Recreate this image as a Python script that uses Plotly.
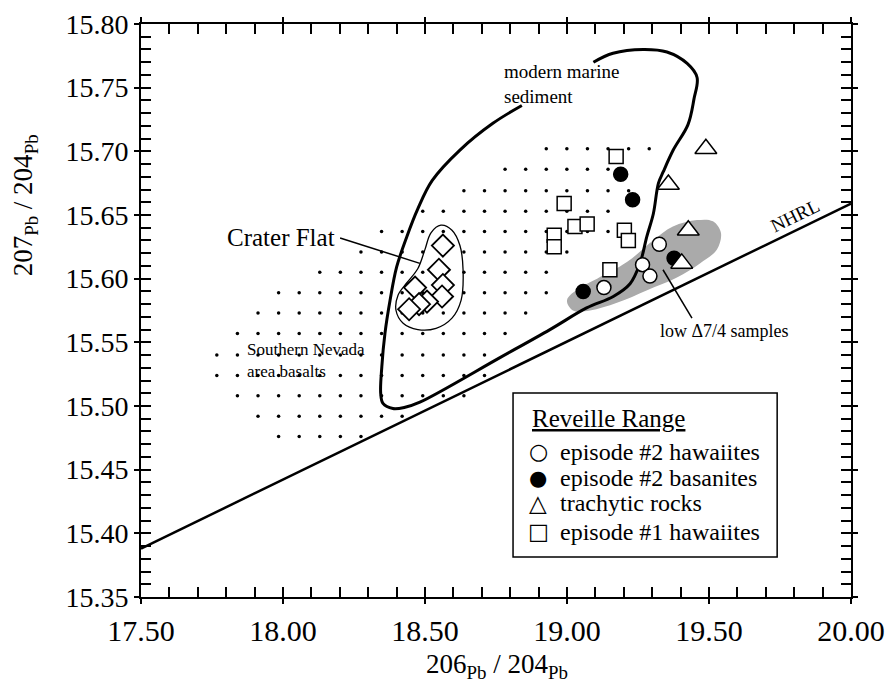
import plotly.graph_objects as go

# ---------------- data ----------------
# Reveille Range samples
ep2_haw_x = [19.325, 19.266, 19.292, 19.130]
ep2_haw_y = [15.627, 15.611, 15.602, 15.593]

ep2_bas_x = [19.189, 19.231, 19.057, 19.377]
ep2_bas_y = [15.682, 15.662, 15.590, 15.616]

trach_x = [19.489, 19.357, 19.427, 19.404]
trach_y = [15.702, 15.674, 15.638, 15.612]

ep1_haw_x = [19.173, 18.990, 19.028, 19.071, 18.955, 18.955, 19.202, 19.216, 19.151]
ep1_haw_y = [15.696, 15.659, 15.641, 15.643, 15.634, 15.625, 15.638, 15.630, 15.607]

# Crater Flat samples (diamonds)
cf_x = [18.563, 18.549, 18.563, 18.465, 18.560, 18.507, 18.479, 18.444]
cf_y = [15.626, 15.607, 15.595, 15.593, 15.586, 15.582, 15.580, 15.576]

# Crater Flat field outline
cf_field_x = [18.556, 18.595, 18.623, 18.634, 18.627, 18.595, 18.539, 18.475,
              18.423, 18.398, 18.405, 18.437, 18.475, 18.500, 18.521, 18.556]
cf_field_y = [15.642, 15.638, 15.626, 15.607, 15.583, 15.569, 15.561, 15.560,
              15.565, 15.575, 15.587, 15.597, 15.608, 15.623, 15.636, 15.642]

# modern marine sediment field (open curve)
mms_x = [18.841, 18.739, 18.623, 18.525, 18.475, 18.436, 18.400, 18.377, 18.359,
         18.348, 18.344, 18.352, 18.387, 18.430, 18.482, 18.764, 18.940, 19.069,
         19.163, 19.222, 19.257, 19.281, 19.304, 19.322, 19.339, 19.374, 19.426,
         19.447, 19.458, 19.423, 19.352, 19.268, 19.162, 19.093]
mms_y = [15.736, 15.722, 15.701, 15.677, 15.655, 15.633, 15.609, 15.583, 15.557,
         15.531, 15.510, 15.502, 15.498, 15.499, 15.503, 15.538, 15.560, 15.577,
         15.586, 15.596, 15.612, 15.633, 15.651, 15.675, 15.684, 15.701, 15.721,
         15.741, 15.758, 15.769, 15.778, 15.780, 15.777, 15.770]

# low D7/4 field (shaded)
low_x = [19.000, 19.046, 19.106, 19.211, 19.303, 19.373, 19.458, 19.514,
         19.542, 19.528, 19.468, 19.387, 19.282, 19.176, 19.081, 19.021, 19.000]
low_y = [15.583, 15.593, 15.600, 15.613, 15.630, 15.641, 15.646, 15.645,
         15.636, 15.623, 15.612, 15.601, 15.591, 15.581, 15.575, 15.575, 15.583]

# NHRL reference line end points
nhrl_x = [17.50, 20.00]
nhrl_y = [15.388, 15.659]

# Southern Nevada area basalts stipple: grid rows and column index extents
stip_x0 = 17.767
stip_dx = 0.0725
stip_row_y = [15.702, 15.686, 15.669, 15.653, 15.637, 15.621, 15.605, 15.589,
              15.573, 15.557, 15.540, 15.524, 15.508, 15.492, 15.476]
stip_first = [16, 14, 12, 10, 8, 7, 5, 3, 2, 1, 0, 0, 1, 2, 3]
stip_last = [21, 19, 20, 19, 19, 17, 16, 16, 15, 14, 13, 13, 12, 9, 7]

x_ticks = [17.5, 18.0, 18.5, 19.0, 19.5, 20.0]
y_ticks = [15.35, 15.40, 15.45, 15.50, 15.55, 15.60, 15.65, 15.70, 15.75, 15.80]

legend_title = "Reveille Range"
legend_labels = ["episode #2 hawaiites", "episode #2 basanites",
                 "trachytic rocks", "episode #1 hawaiites"]
legend_glyphs = ["○", "●", "△", "□"]

# ---------------- build figure ----------------
SERIF = "Liberation Serif"
fig = go.Figure()

sx, sy = [], []
for yy, k0, k1 in zip(stip_row_y, stip_first, stip_last):
    for k in range(k0, k1 + 1):
        sx.append(stip_x0 + k * stip_dx)
        sy.append(yy)
fig.add_trace(go.Scatter(x=sx, y=sy, mode="markers", showlegend=False,
                         marker=dict(size=3.5, color="black"), hoverinfo="skip"))

fig.add_trace(go.Scatter(x=low_x, y=low_y, mode="lines", fill="toself",
                         fillcolor="rgb(170,170,170)", line=dict(width=0, shape="spline"),
                         showlegend=False, hoverinfo="skip"))

fig.add_trace(go.Scatter(x=nhrl_x, y=nhrl_y, mode="lines", showlegend=False,
                         line=dict(color="black", width=2.5), hoverinfo="skip"))

fig.add_trace(go.Scatter(x=mms_x, y=mms_y, mode="lines", showlegend=False,
                         line=dict(color="black", width=3, shape="spline", smoothing=1.0),
                         hoverinfo="skip"))

fig.add_trace(go.Scatter(x=cf_field_x, y=cf_field_y, mode="lines", showlegend=False,
                         line=dict(color="black", width=1.3, shape="spline", smoothing=1),
                         hoverinfo="skip"))

fig.add_trace(go.Scatter(x=cf_x, y=cf_y, mode="markers", showlegend=False, name="Crater Flat",
                         marker=dict(symbol="diamond", size=17, color="white",
                                     line=dict(color="black", width=1.8))))

fig.add_trace(go.Scatter(x=ep2_haw_x, y=ep2_haw_y, mode="markers", name=legend_labels[0],
                         showlegend=False,
                         marker=dict(symbol="circle", size=14, color="white",
                                     line=dict(color="black", width=1.5))))
fig.add_trace(go.Scatter(x=ep2_bas_x, y=ep2_bas_y, mode="markers", name=legend_labels[1],
                         showlegend=False,
                         marker=dict(symbol="circle", size=14, color="black",
                                     line=dict(color="black", width=1.5))))
fig.add_trace(go.Scatter(x=trach_x, y=trach_y, mode="markers", name=legend_labels[2],
                         showlegend=False,
                         marker=dict(symbol="triangle-up", size=19, color="white",
                                     line=dict(color="black", width=1.5))))
fig.add_trace(go.Scatter(x=ep1_haw_x, y=ep1_haw_y, mode="markers", name=legend_labels[3],
                         showlegend=False,
                         marker=dict(symbol="square", size=14, color="white",
                                     line=dict(color="black", width=1.5))))

# dummy trace for overlay axes (outside major ticks)
fig.add_trace(go.Scatter(x=[], y=[], xaxis="x2", yaxis="y2", showlegend=False))

# leader lines
fig.add_shape(type="line", x0=18.201, y0=15.632, x1=18.482, y1=15.612,
              line=dict(color="black", width=1.5))
fig.add_shape(type="line", x0=19.338, y0=15.607, x1=19.440, y1=15.569,
              line=dict(color="black", width=1.5))

ann_font = dict(family=SERIF, color="black")
fig.add_annotation(x=17.993, y=15.632, text="Crater Flat", showarrow=False,
                   font=dict(size=25, **ann_font))
fig.add_annotation(x=18.771, y=15.753, text="modern marine<br>sediment", showarrow=False,
                   xanchor="left", align="left", font=dict(size=19, **ann_font))
fig.add_annotation(x=17.866, y=15.536, text="Southern Nevada<br>area basalts", showarrow=False,
                   xanchor="left", align="left", font=dict(size=17, **ann_font))
fig.add_annotation(x=19.320, y=15.559, text="low Δ7/4 samples", showarrow=False,
                   xanchor="left", font=dict(size=18, **ann_font))
fig.add_annotation(x=19.803, y=15.650, text="NHRL", showarrow=False, textangle=-26,
                   font=dict(size=19, **ann_font))

# axis titles
fig.add_annotation(xref="paper", yref="paper", x=0.501, y=-0.12,
                   xanchor="center", yanchor="middle",
                   text="206<sub>Pb</sub> / 204<sub>Pb</sub>", showarrow=False,
                   font=dict(size=27, **ann_font))
fig.add_annotation(xref="paper", yref="paper", x=-0.163, y=0.684, textangle=-90,
                   xanchor="center", yanchor="middle",
                   text="207<sub>Pb</sub> / 204<sub>Pb</sub>", showarrow=False,
                   font=dict(size=27, **ann_font))

# legend box (paper coordinates)
fig.add_shape(type="rect", xref="paper", yref="paper", x0=0.524, x1=0.896, y0=0.070, y1=0.356,
              fillcolor="white", line=dict(color="black", width=1.5), layer="above")
fig.add_annotation(xref="paper", yref="paper", x=0.548, y=0.312, xanchor="left", yanchor="middle",
                   text="<u>" + legend_title + "</u>", showarrow=False,
                   font=dict(size=25, **ann_font))
row_y = [0.2536, 0.2072, 0.1635, 0.1140]
glyph_sizes = [22, 21, 23, 22]
for g, gs, lab, yy in zip(legend_glyphs, glyph_sizes, legend_labels, row_y):
    fig.add_annotation(xref="paper", yref="paper", x=0.5592, y=yy, xanchor="center",
                       yanchor="middle", text=g, showarrow=False,
                       font=dict(family="DejaVu Sans", size=gs, color="black"))
    fig.add_annotation(xref="paper", yref="paper", x=0.5873, y=yy, xanchor="left",
                       yanchor="middle", text=lab, showarrow=False,
                       font=dict(size=24, **ann_font))

common = dict(showgrid=False, zeroline=False, color="black", automargin=False)
fig.update_layout(
    width=885, height=689,
    margin=dict(l=141, r=34, t=24, b=92, autoexpand=False),
    paper_bgcolor="white", plot_bgcolor="white",
    font=dict(family=SERIF, color="black"),
    showlegend=False,
    xaxis=dict(range=[17.5, 20.0], tickvals=x_ticks, tickformat=".2f",
               showline=True, linecolor="black", linewidth=2, mirror="allticks",
               ticks="inside", ticklen=10, tickwidth=1.5, tickcolor="black",
               tickfont=dict(family=SERIF, size=30, color="black"),
               ticklabelstandoff=6,
               minor=dict(ticks="inside", dtick=0.1, tick0=17.5, ticklen=10,
                          tickwidth=1.5, tickcolor="black", showgrid=False),
               **common),
    yaxis=dict(range=[15.35, 15.80], tickvals=y_ticks, tickformat=".2f",
               showline=True, linecolor="black", linewidth=2, mirror="allticks",
               ticks="inside", ticklen=10, tickwidth=1.5, tickcolor="black",
               tickfont=dict(family=SERIF, size=28, color="black"),
               ticklabelstandoff=5,
               minor=dict(ticks="inside", dtick=0.01, tick0=15.35, ticklen=10,
                          tickwidth=1.5, tickcolor="black", showgrid=False),
               **common),
    xaxis2=dict(range=[17.5, 20.0], overlaying="x", anchor="y2", tickvals=x_ticks,
                ticks="outside", ticklen=6, tickwidth=1.5, tickcolor="black",
                showticklabels=False, showline=False, mirror="allticks", **common),
    yaxis2=dict(range=[15.35, 15.80], overlaying="y", anchor="x2", tickvals=y_ticks,
                ticks="outside", ticklen=6, tickwidth=1.5, tickcolor="black",
                showticklabels=False, showline=False, mirror="allticks", **common),
)

fig.write_html("out.html", config={"displayModeBar": False},
               post_script="document.body.style.margin='0px';")
